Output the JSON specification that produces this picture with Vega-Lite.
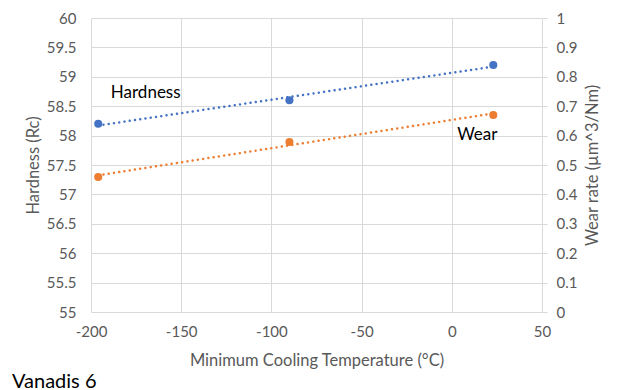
{
  "$schema": "https://vega.github.io/schema/vega-lite/v6.json",
  "width": 451,
  "height": 294,
  "autosize": {"type": "none"},
  "padding": {"left": 91, "top": 18, "right": 82, "bottom": 78},
  "background": "white",
  "datasets": {
    "pts": [
      {"temp": -196, "hardness": 58.2, "wear": 0.459},
      {"temp": -90, "hardness": 58.6, "wear": 0.578},
      {"temp": 23, "hardness": 59.2, "wear": 0.67}
    ],
    "labH": [{"temp": -189, "hardness": 58.72, "label": "Hardness"}],
    "labW": [{"temp": 3, "wear": 0.603, "label": "Wear"}]
  },
  "title": {
    "text": "Vanadis 6",
    "orient": "bottom",
    "anchor": "start",
    "frame": "group",
    "dx": -79,
    "offset": 3,
    "font": "Lato",
    "fontSize": 20,
    "fontWeight": "normal",
    "color": "#000000"
  },
  "config": {
    "view": {"stroke": null},
    "font": "Lato",
    "axis": {
      "labelFont": "Lato",
      "titleFont": "Lato",
      "labelFontSize": 15,
      "titleFontSize": 16.5,
      "labelColor": "#595959",
      "titleColor": "#595959",
      "titleFontWeight": "normal",
      "gridColor": "#d9d9d9",
      "gridWidth": 1,
      "domain": false,
      "tickColor": "#d9d9d9"
    }
  },
  "layer": [
    {
      "layer": [
        {
          "data": {"name": "pts"},
          "transform": [{"regression": "hardness", "on": "temp", "extent": [-196, 23]}],
          "mark": {"type": "line", "color": "#4472C4", "strokeWidth": 2.5, "strokeDash": [0.01, 5.3], "strokeCap": "round"},
          "encoding": {
            "x": {"field": "temp", "type": "quantitative"},
            "y": {"field": "hardness", "type": "quantitative"}
          }
        },
        {
          "data": {"name": "pts"},
          "mark": {"type": "point", "filled": true, "color": "#4472C4", "size": 65, "opacity": 1},
          "encoding": {
            "x": {"field": "temp", "type": "quantitative"},
            "y": {"field": "hardness", "type": "quantitative"}
          }
        },
        {
          "data": {"name": "labH"},
          "mark": {"type": "text", "align": "left", "baseline": "middle", "fontSize": 17, "font": "Lato", "color": "#000000"},
          "encoding": {
            "x": {"field": "temp", "type": "quantitative"},
            "y": {"field": "hardness", "type": "quantitative"},
            "text": {"field": "label"}
          }
        }
      ],
      "encoding": {
        "x": {
          "field": "temp",
          "type": "quantitative",
          "scale": {"domain": [-200, 50], "nice": false, "zero": false},
          "axis": {
            "title": "Minimum Cooling Temperature (°C)",
            "values": [-200, -150, -100, -50, 0, 50],
            "labelExpr": "toString(datum.value)",
            "ticks": false,
            "labelPadding": 12,
            "titlePadding": 13,
            "labelFlush": false
          }
        },
        "y": {
          "field": "hardness",
          "type": "quantitative",
          "scale": {"domain": [55, 60], "nice": false, "zero": false},
          "axis": {
            "title": "Hardness (Rc)",
            "values": [55, 55.5, 56, 56.5, 57, 57.5, 58, 58.5, 59, 59.5, 60],
            "labelExpr": "toString(datum.value)",
            "ticks": false,
            "labelPadding": 15,
            "titlePadding": 5,
            "labelFlush": false
          }
        }
      }
    },
    {
      "layer": [
        {
          "data": {"name": "pts"},
          "transform": [{"regression": "wear", "on": "temp", "extent": [-196, 23]}],
          "mark": {"type": "line", "color": "#ED7D31", "strokeWidth": 2.5, "strokeDash": [0.01, 5.3], "strokeCap": "round"},
          "encoding": {
            "x": {"field": "temp", "type": "quantitative"},
            "y": {"field": "wear", "type": "quantitative"}
          }
        },
        {
          "data": {"name": "pts"},
          "mark": {"type": "point", "filled": true, "color": "#ED7D31", "size": 65, "opacity": 1},
          "encoding": {
            "x": {"field": "temp", "type": "quantitative"},
            "y": {"field": "wear", "type": "quantitative"}
          }
        },
        {
          "data": {"name": "labW"},
          "mark": {"type": "text", "align": "left", "baseline": "middle", "fontSize": 17, "font": "Lato", "color": "#000000"},
          "encoding": {
            "x": {"field": "temp", "type": "quantitative"},
            "y": {"field": "wear", "type": "quantitative"},
            "text": {"field": "label"}
          }
        }
      ],
      "encoding": {
        "x": {"field": "temp", "type": "quantitative", "scale": {"domain": [-200, 50], "nice": false, "zero": false}},
        "y": {
          "field": "wear",
          "type": "quantitative",
          "scale": {"domain": [0, 1], "nice": false, "zero": false},
          "axis": {
            "orient": "right",
            "title": "Wear rate (µm^3/Nm)",
            "titleAngle": 270,
            "titleBaseline": "top",
            "values": [0, 0.1, 0.2, 0.3, 0.4, 0.5, 0.6, 0.7, 0.8, 0.9, 1],
            "labelExpr": "toString(datum.value)",
            "grid": false,
            "ticks": true,
            "tickSize": 5,
            "labelPadding": 9,
            "titlePadding": 8,
            "labelFlush": false
          }
        }
      }
    }
  ],
  "resolve": {"scale": {"y": "independent"}}
}
